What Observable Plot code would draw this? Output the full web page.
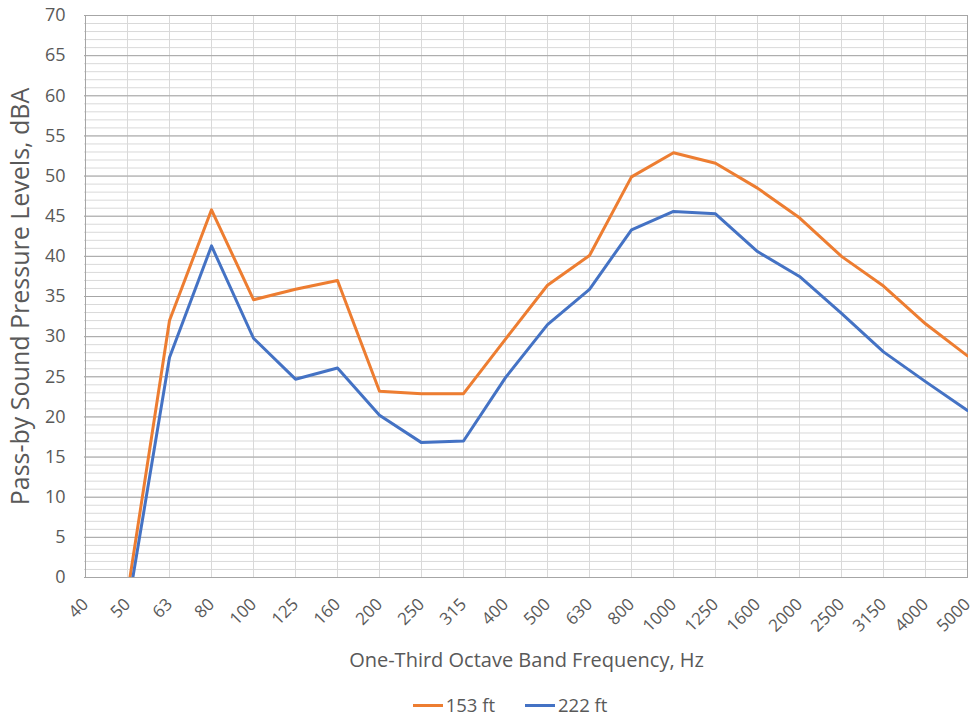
<!DOCTYPE html>
<html>
<head>
<meta charset="utf-8">
<script src="https://cdn.jsdelivr.net/npm/d3@7"></script>
<script src="https://cdn.jsdelivr.net/npm/@observablehq/plot@0.6"></script>
<style>
  html, body { margin: 0; padding: 0; background: #fff; overflow: hidden; }
  #chart { width: 974px; font-family: "Open Sans", sans-serif; color: #595959; }
  .legend { display: flex; justify-content: center; align-items: center; gap: 30px; font-size: 18.5px; line-height: 1; height: 27px; margin-left: 46px; padding-top: 6px; }
  .legend span { display: inline-flex; align-items: center; }
  .legend i { display: inline-block; width: 30px; height: 3px; margin-right: 3px; }
</style>
</head>
<body>
<div id="chart"></div>
<script>
// One-third octave band centre frequencies, Hz
const bands = ["40", "50", "63", "80", "100", "125", "160", "200", "250", "315", "400", "500",
  "630", "800", "1000", "1250", "1600", "2000", "2500", "3150", "4000", "5000"];

// Pass-by sound pressure levels, dBA
const at153ft = [null, -2.0, 32.0, 45.8, 34.6, 35.9, 37.0, 23.2, 22.9, 22.9, 29.7, 36.4,
  40.1, 49.9, 52.9, 51.6, 48.5, 44.8, 40.0, 36.3, 31.6, 27.6];
const at222ft = [null, -4.0, 27.4, 41.3, 29.8, 24.7, 26.1, 20.2, 16.8, 17.0, 24.9, 31.5,
  35.9, 43.3, 45.6, 45.3, 40.6, 37.5, 32.9, 28.1, 24.4, 20.8];

const seriesNames = ["153 ft", "222 ft"];
const seriesColors = ["#ED7D31", "#4472C4"];

const rows = [
  ...bands.map((b, i) => ({band: b, level: at153ft[i], series: seriesNames[0]})),
  ...bands.map((b, i) => ({band: b, level: at222ft[i], series: seriesNames[1]}))
];

const yMinor = d3.range(0, 71, 1);
const yMajor = d3.range(0, 71, 5);

const chart = Plot.plot({
  width: 974,
  height: 686,
  marginLeft: 84,
  marginRight: 6,
  marginTop: 15,
  marginBottom: 109,
  style: {fontFamily: "Open Sans, sans-serif", color: "#595959", background: "#fff"},
  x: {type: "point", domain: bands, padding: 0},
  y: {domain: [0, 70]},
  color: {domain: seriesNames, range: seriesColors},
  marks: [
    Plot.ruleY(yMinor, {stroke: "#d9d9d9", strokeWidth: 1}),
    Plot.ruleX(bands, {stroke: "#d9d9d9", strokeWidth: 1}),
    Plot.ruleY(yMajor, {stroke: "#a6a6a6", strokeWidth: 1}),
    Plot.ruleX([bands[0], bands[bands.length - 1]], {stroke: "#a6a6a6", strokeWidth: 1}),
    Plot.line(rows, {x: "band", y: "level", z: "series", stroke: "series", strokeWidth: 3, clip: true}),
    Plot.axisY(yMajor, {tickSize: 0, tickPadding: 19, fontSize: 18, label: null}),
    Plot.axisX({tickSize: 0, tickPadding: 24, tickRotate: -45, fontSize: 17, label: null}),
    Plot.text(["Pass-by Sound Pressure Levels, dBA"], {frameAnchor: "left", textAnchor: "middle", dx: -64, rotate: -90, fontSize: 25, fill: "#595959"}),
    Plot.text(["One-Third Octave Band Frequency, Hz"], {frameAnchor: "bottom", dy: 89, fontSize: 20, fill: "#595959"})
  ]
});

const host = document.getElementById("chart");
host.appendChild(chart);

const legend = document.createElement("div");
legend.className = "legend";
seriesNames.forEach((name, i) => {
  const item = document.createElement("span");
  item.innerHTML = `<i style="background:${seriesColors[i]}"></i>${name}`;
  legend.appendChild(item);
});
host.appendChild(legend);
</script>
</body>
</html>
